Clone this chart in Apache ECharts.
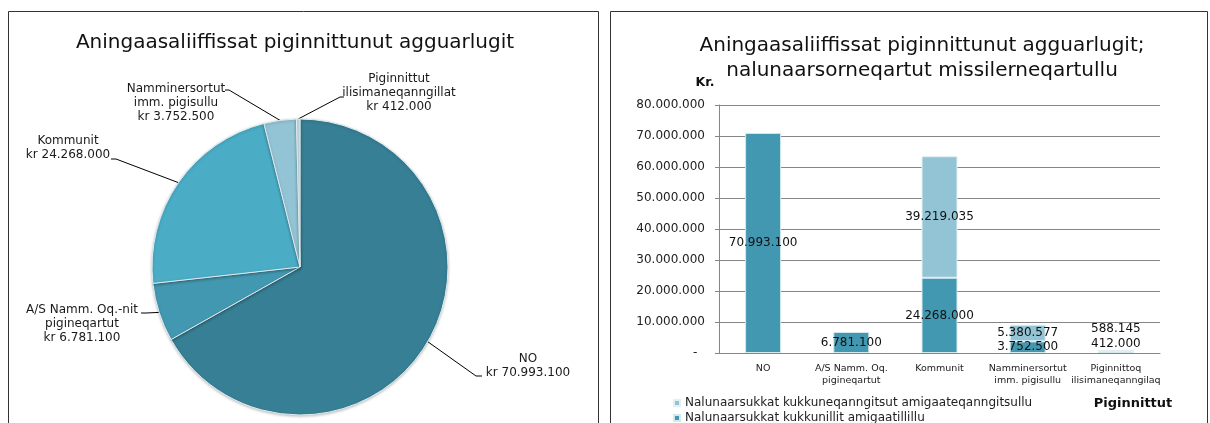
<!DOCTYPE html>
<html>
<head>
<meta charset="utf-8">
<script src="https://cdn.jsdelivr.net/npm/echarts@6/dist/echarts.min.js"></script>
<style>
  html, body { margin: 0; padding: 0; background: #fff; }
  #chart { width: 1210px; height: 423px; }
</style>
</head>
<body>
<div id="chart"></div>
<script>
// pie: ejerfordeling
const pieNames = ['NO', 'A/S Namm. Oq.-nit\npigineqartut', 'Kommunit', 'Namminersortut\nimm. pigisullu', 'Piginnittut\nilisimaneqanngillat']
const pieValues = [70993100, 6781100, 24268000, 3752500, 412000]

// bars
const categories = ['NO', 'A/S Namm. Oq.\npigineqartut', 'Kommunit', 'Namminersortut\nimm. pigisullu', 'Piginnittoq\nilisimaneqanngilaq']
const withErrors = [70993100, 6781100, 24268000, 3752500, 412000]
const withoutErrors = [null, null, 39219035, 5380577, 588145]
const legendNames = ['Nalunaarsukkat kukkuneqanngitsut amigaateqanngitsullu', 'Nalunaarsukkat kukkunillit amigaatillillu']
const yMin = 0
const yMax = 80000000
const yStep = 10000000

const FONT = '"DejaVu Sans", Verdana, sans-serif'
const pieColors = ['#377f95', '#4398b1', '#4bacc6', '#93c4d5', '#c3e0ea']
const darkBar = '#4398b1'
const lightBar = '#93c4d5'

function fmt (n) {
  return String(Math.round(n)).replace(/\B(?=(\d{3})+(?!\d))/g, '.')
}

// where the pie labels sit (center of text block) and the end of their leader line
const pieLabelPos = [[528, 366], [82, 324], [68, 148], [176, 103], [399, 93]]
const pieLineEnd = [
  [[476, 376], [482, 376]],
  [[146, 313], [141, 313]],
  [[116, 159], [111, 159]],
  [[229, 90], [225, 90]],
  [[340, 97], [344, 97]]
]
// label nudges for the small bars
const lightOffsets = [0, 0, 0, 0, -22]
const darkOffsets = [0, 0, 0, 0, -8]

const chart = echarts.init(document.getElementById('chart'))

const legendText = { fontSize: 12, color: '#222', fontFamily: FONT }

const option = {
  animation: false,
  textStyle: { fontFamily: FONT },
  graphic: [
    { type: 'rect', shape: { x: 8.5, y: 11.5, width: 590, height: 440 }, style: { fill: 'none', stroke: '#333', lineWidth: 1 } },
    { type: 'rect', shape: { x: 610.5, y: 11.5, width: 597, height: 440 }, style: { fill: 'none', stroke: '#333', lineWidth: 1 } },
    { type: 'text', x: 295, y: 43, style: { text: 'Aningaasaliiffissat piginnittunut agguarlugit', textAlign: 'center', textVerticalAlign: 'middle', font: '20px ' + FONT, fill: '#111' } },
    { type: 'text', x: 922, y: 58, style: { text: 'Aningaasaliiffissat piginnittunut agguarlugit;\nnalunaarsorneqartut missilerneqartullu', textAlign: 'center', textVerticalAlign: 'middle', font: '20px ' + FONT, lineHeight: 25, fill: '#111' } },
    { type: 'text', x: 705, y: 83, style: { text: 'Kr.', textAlign: 'center', textVerticalAlign: 'middle', font: 'bold 12.5px ' + FONT, fill: '#111' } },
    { type: 'text', x: 1133, y: 404, style: { text: 'Piginnittut', textAlign: 'center', textVerticalAlign: 'middle', font: 'bold 13px ' + FONT, fill: '#111' } }
  ],
  legend: [
    {
      left: 673,
      top: 397,
      padding: 0,
      itemWidth: 6,
      itemHeight: 6,
      icon: 'rect',
      data: [legendNames[0]],
      textStyle: legendText
    },
    {
      left: 673,
      top: 412,
      padding: 0,
      itemWidth: 6,
      itemHeight: 6,
      icon: 'rect',
      data: [legendNames[1]],
      textStyle: legendText
    }
  ],
  grid: { left: 719, top: 105, right: 50, bottom: 70, containLabel: false },
  xAxis: {
    type: 'category',
    data: categories,
    axisLine: { lineStyle: { color: '#868686' } },
    axisTick: { length: 5, lineStyle: { color: '#868686' } },
    axisLabel: { fontSize: 9.5, lineHeight: 12, color: '#222', margin: 10, interval: 0, fontFamily: FONT }
  },
  yAxis: {
    type: 'value',
    min: yMin,
    max: yMax,
    interval: yStep,
    axisLine: { show: true, lineStyle: { color: '#868686' } },
    axisTick: { show: true, length: 4, lineStyle: { color: '#868686' } },
    splitLine: { lineStyle: { color: '#868686' } },
    axisLabel: {
      fontSize: 12,
      color: '#222',
      margin: 14,
      fontFamily: FONT,
      formatter: v => (v === 0 ? '-  ' : fmt(v))
    }
  },
  series: [
    {
      type: 'pie',
      center: [300, 267],
      radius: 148,
      startAngle: 90,
      clockwise: true,
      silent: true,
      data: pieValues.map((v, i) => ({ name: pieNames[i], value: v, itemStyle: { color: pieColors[i] } })),
      itemStyle: { borderColor: '#dcecf1', borderWidth: 1, shadowBlur: 3, shadowColor: 'rgba(0,0,0,0.25)', shadowOffsetY: 1 },
      label: {
        show: true,
        formatter: p => p.name + '\nkr ' + fmt(p.value),
        fontSize: 12,
        lineHeight: 14,
        color: '#1a1a1a',
        fontFamily: FONT,
        align: 'center',
        overflow: 'none'
      },
      labelLine: { show: true, length: 10, length2: 10, lineStyle: { color: '#000', width: 1 } },
      labelLayout: function (params) {
        const i = params.dataIndex
        const pts = params.labelLinePoints
        const res = {
          x: pieLabelPos[i][0],
          y: pieLabelPos[i][1],
          width: 180,
          align: 'center',
          verticalAlign: 'middle'
        }
        if (pts && pts[0]) {
          res.labelLinePoints = [pts[0]].concat(pieLineEnd[i])
        }
        return res
      }
    },
    {
      name: legendNames[1],
      type: 'bar',
      stack: 'tot',
      barWidth: 36,
      itemStyle: { color: darkBar, borderColor: '#d4e8ee', borderWidth: 1 },
      label: {
        show: true,
        position: 'inside',
        color: '#111',
        fontSize: 12,
        fontFamily: FONT,
        formatter: p => fmt(p.value)
      },
      data: withErrors.map((v, i) => ({ value: v, label: { offset: [0, darkOffsets[i]] } }))
    },
    {
      name: legendNames[0],
      type: 'bar',
      stack: 'tot',
      barWidth: 36,
      itemStyle: { color: lightBar, borderColor: '#e2f0f4', borderWidth: 1 },
      label: {
        show: true,
        position: 'inside',
        color: '#111',
        fontSize: 12,
        fontFamily: FONT,
        formatter: p => (p.value == null ? '' : fmt(p.value))
      },
      data: withoutErrors.map((v, i) => ({ value: v, label: { offset: [0, lightOffsets[i]] } }))
    }
  ]
}

chart.setOption(option)
</script>
</body>
</html>
